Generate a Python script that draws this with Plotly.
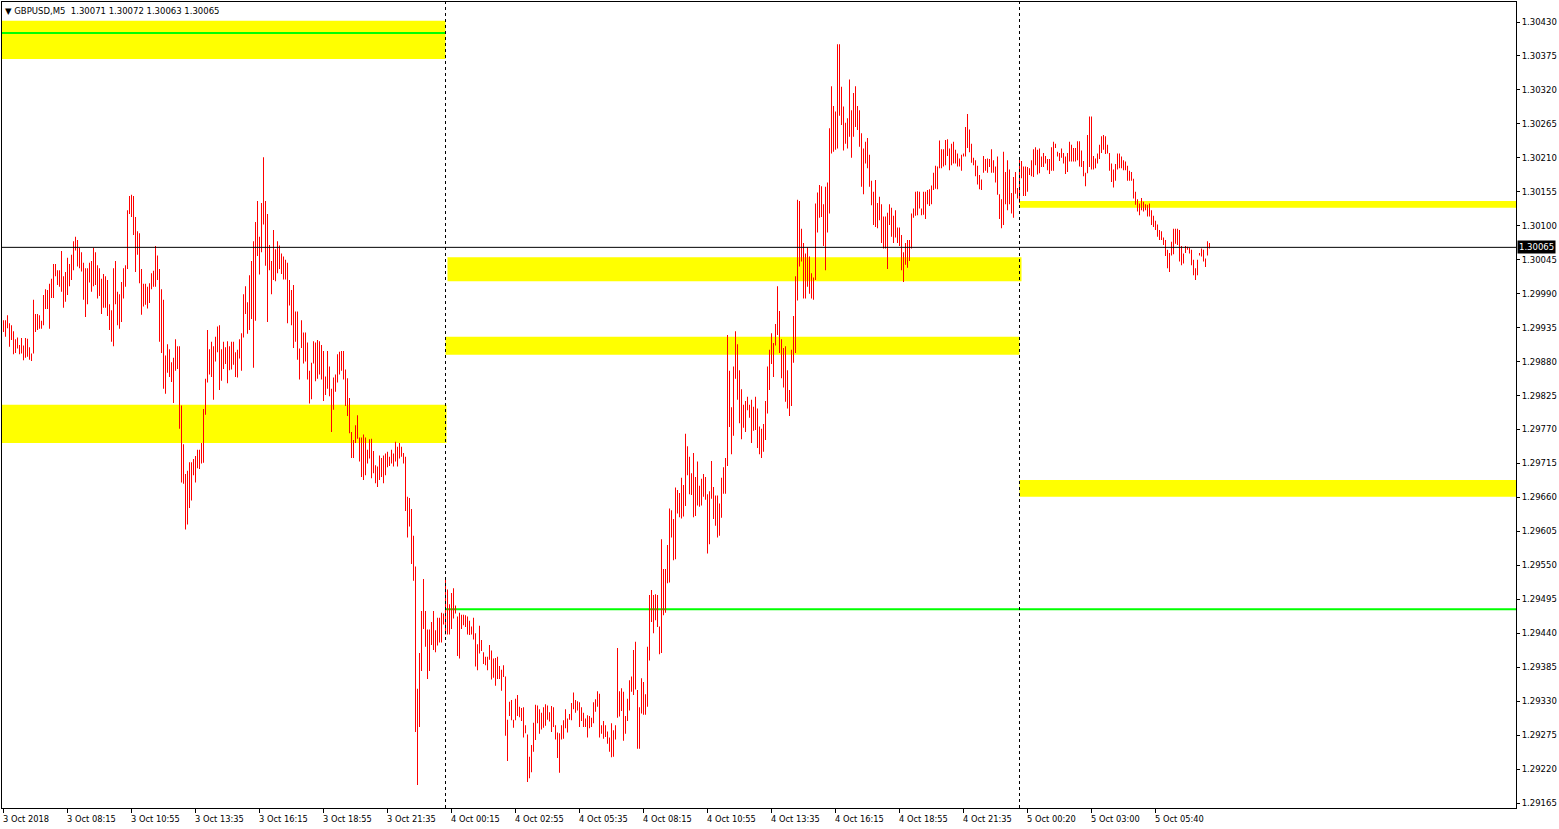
import plotly.graph_objects as go

# ── Data ─────────────────────────────────────────────────────────────────────
SYMBOL = "GBPUSD,M5"
LAST_OHLC = [1.30071, 1.30072, 1.30063, 1.30065]
BID = 1.30065

# bar highs / lows, one per 5-minute bar, 3 Oct 05:35 -> 5 Oct ~07:55
HIGH = [
    1.29947, 1.29947, 1.29955, 1.29942, 1.29939, 1.29929, 1.29916, 1.29919, 1.29907, 1.29918,
    1.29906, 1.29918, 1.29917, 1.29903, 1.29893, 1.29980, 1.29957, 1.29957, 1.29955, 1.29946,
    1.29988, 1.29997, 1.29996, 1.30006, 1.30014, 1.30038, 1.30038, 1.30028, 1.30028, 1.30059,
    1.30018, 1.30025, 1.30048, 1.30038, 1.30053, 1.30075, 1.30082, 1.30077, 1.30064, 1.30057,
    1.30040, 1.30031, 1.30031, 1.30040, 1.30043, 1.30064, 1.30057, 1.30036, 1.30031, 1.30014,
    1.30022, 1.30018, 1.30012, 1.29973, 1.29963, 1.30031, 1.30043, 1.29993, 1.29989, 1.30009,
    1.30031, 1.30036, 1.30125, 1.30148, 1.30150, 1.30148, 1.30114, 1.30091, 1.30088, 1.30030,
    1.30006, 1.30006, 1.30001, 1.30007, 1.30023, 1.30027, 1.30067, 1.30052, 1.30030, 1.29997,
    1.29980, 1.29890, 1.29908, 1.29900, 1.29879, 1.29886, 1.29916, 1.29905, 1.29905, 1.29809,
    1.29746, 1.29698, 1.29703, 1.29717, 1.29717, 1.29722, 1.29727, 1.29737, 1.29737, 1.29748,
    1.29803, 1.29852, 1.29931, 1.29900, 1.29912, 1.29905, 1.29920, 1.29937, 1.29939, 1.29900,
    1.29912, 1.29903, 1.29913, 1.29905, 1.29912, 1.29912, 1.29895, 1.29899, 1.29916, 1.29926,
    1.29989, 1.30002, 1.29976, 1.30020, 1.30043, 1.30075, 1.30106, 1.30140, 1.30082, 1.30137,
    1.30211, 1.30140, 1.30119, 1.30069, 1.30043, 1.30093, 1.30062, 1.30075, 1.30068, 1.30055,
    1.30050, 1.30045, 1.30040, 1.30012, 1.29996, 1.30004, 1.29961, 1.29961, 1.29901, 1.29947,
    1.29927, 1.29927, 1.29911, 1.29865, 1.29878, 1.29913, 1.29911, 1.29915, 1.29913, 1.29907,
    1.29897, 1.29856, 1.29897, 1.29872, 1.29836, 1.29854, 1.29859, 1.29892, 1.29896, 1.29897,
    1.29897, 1.29867, 1.29853, 1.29821, 1.29766, 1.29753, 1.29777, 1.29793, 1.29757, 1.29757,
    1.29762, 1.29757, 1.29737, 1.29754, 1.29755, 1.29735, 1.29712, 1.29710, 1.29728, 1.29724,
    1.29728, 1.29731, 1.29734, 1.29726, 1.29737, 1.29731, 1.29750, 1.29742, 1.29748, 1.29742,
    1.29732, 1.29726, 1.29661, 1.29659, 1.29641, 1.29598, 1.29548, 1.29350, 1.29408, 1.29476,
    1.29528, 1.29476, 1.29446, 1.29446, 1.29458, 1.29476, 1.29445, 1.29465, 1.29465, 1.29473,
    1.29472, 1.29531, 1.29511, 1.29487, 1.29505, 1.29513, 1.29485, 1.29467, 1.29473, 1.29470,
    1.29470, 1.29469, 1.29467, 1.29460, 1.29451, 1.29465, 1.29440, 1.29422, 1.29452, 1.29429,
    1.29409, 1.29402, 1.29402, 1.29421, 1.29412, 1.29399, 1.29400, 1.29402, 1.29387, 1.29381,
    1.29388, 1.29370, 1.29300, 1.29329, 1.29332, 1.29300, 1.29334, 1.29340, 1.29321, 1.29319,
    1.29320, 1.29291, 1.29276, 1.29240, 1.29259, 1.29295, 1.29324, 1.29323, 1.29317, 1.29311,
    1.29320, 1.29325, 1.29323, 1.29312, 1.29322, 1.29320, 1.29291, 1.29279, 1.29278, 1.29291,
    1.29299, 1.29317, 1.29302, 1.29309, 1.29327, 1.29344, 1.29332, 1.29330, 1.29328, 1.29320,
    1.29311, 1.29302, 1.29307, 1.29306, 1.29303, 1.29328, 1.29333, 1.29346, 1.29342, 1.29291,
    1.29298, 1.29291, 1.29281, 1.29271, 1.29294, 1.29283, 1.29291, 1.29416, 1.29346, 1.29351,
    1.29345, 1.29306, 1.29334, 1.29364, 1.29370, 1.29413, 1.29426, 1.29348, 1.29320, 1.29367,
    1.29361, 1.29341, 1.29418, 1.29502, 1.29510, 1.29502, 1.29503, 1.29502, 1.29451, 1.29592,
    1.29544, 1.29544, 1.29583, 1.29642, 1.29639, 1.29625, 1.29676, 1.29672, 1.29667, 1.29692,
    1.29680, 1.29763, 1.29743, 1.29726, 1.29699, 1.29732, 1.29693, 1.29718, 1.29679, 1.29690,
    1.29698, 1.29693, 1.29665, 1.29670, 1.29719, 1.29677, 1.29663, 1.29663, 1.29650, 1.29692,
    1.29709, 1.29724, 1.29923, 1.29865, 1.29806, 1.29872, 1.29929, 1.29908, 1.29866, 1.29835,
    1.29810, 1.29816, 1.29823, 1.29810, 1.29818, 1.29807, 1.29823, 1.29804, 1.29775, 1.29771,
    1.29779, 1.29816, 1.29872, 1.29899, 1.29926, 1.29910, 1.29941, 1.30002, 1.29962, 1.29916,
    1.29902, 1.29905, 1.29866, 1.29834, 1.29899, 1.29954, 1.30018, 1.30142, 1.30140, 1.30095,
    1.30072, 1.30055, 1.30065, 1.30050, 1.30023, 1.30016, 1.30136, 1.30154, 1.30166, 1.30164,
    1.30135, 1.30163, 1.30170, 1.30258, 1.30326, 1.30294, 1.30285, 1.30394, 1.30394, 1.30325,
    1.30293, 1.30267, 1.30274, 1.30337, 1.30287, 1.30315, 1.30326, 1.30294, 1.30287, 1.30250,
    1.30225, 1.30236, 1.30242, 1.30215, 1.30173, 1.30155, 1.30174, 1.30137, 1.30147, 1.30135,
    1.30115, 1.30115, 1.30121, 1.30135, 1.30129, 1.30116, 1.30125, 1.30097, 1.30097, 1.30085,
    1.30057, 1.30072, 1.30077, 1.30077, 1.30120, 1.30128, 1.30155, 1.30156, 1.30155, 1.30128,
    1.30155, 1.30155, 1.30158, 1.30159, 1.30165, 1.30186, 1.30197, 1.30196, 1.30238, 1.30224,
    1.30224, 1.30239, 1.30240, 1.30225, 1.30233, 1.30236, 1.30223, 1.30217, 1.30209, 1.30215,
    1.30217, 1.30260, 1.30281, 1.30256, 1.30233, 1.30210, 1.30206, 1.30197, 1.30182, 1.30175,
    1.30213, 1.30208, 1.30209, 1.30208, 1.30224, 1.30206, 1.30196, 1.30212, 1.30151, 1.30143,
    1.30220, 1.30187, 1.30206, 1.30191, 1.30153, 1.30179, 1.30187, 1.30161, 1.30209, 1.30205,
    1.30196, 1.30196, 1.30195, 1.30193, 1.30206, 1.30224, 1.30227, 1.30223, 1.30225, 1.30212,
    1.30218, 1.30213, 1.30208, 1.30208, 1.30227, 1.30236, 1.30233, 1.30220, 1.30218, 1.30225,
    1.30218, 1.30212, 1.30218, 1.30236, 1.30231, 1.30226, 1.30226, 1.30237, 1.30237, 1.30222,
    1.30205, 1.30186, 1.30247, 1.30277, 1.30277, 1.30213, 1.30209, 1.30217, 1.30231, 1.30245,
    1.30247, 1.30245, 1.30231, 1.30218, 1.30201, 1.30191, 1.30200, 1.30217, 1.30217, 1.30212,
    1.30206, 1.30204, 1.30197, 1.30189, 1.30187, 1.30176, 1.30155, 1.30143, 1.30136, 1.30145,
    1.30139, 1.30135, 1.30134, 1.30136, 1.30125, 1.30116, 1.30108, 1.30102, 1.30093, 1.30091,
    1.30081, 1.30077, 1.30061, 1.30056, 1.30074, 1.30095, 1.30095, 1.30095, 1.30093, 1.30067,
    1.30055, 1.30067, 1.30066, 1.30064, 1.30061, 1.30045, 1.30031, 1.30045, 1.30056, 1.30063,
    1.30061, 1.30047, 1.30075, 1.30072,
]

LOW = [
    1.29928, 1.29920, 1.29934, 1.29904, 1.29915, 1.29892, 1.29894, 1.29901, 1.29892, 1.29893,
    1.29882, 1.29886, 1.29888, 1.29883, 1.29881, 1.29893, 1.29928, 1.29931, 1.29933, 1.29933,
    1.29939, 1.29965, 1.29965, 1.29933, 1.29983, 1.29983, 1.30018, 1.30004, 1.30001, 1.29993,
    1.29967, 1.29977, 1.29988, 1.30002, 1.30012, 1.30028, 1.30060, 1.30034, 1.30031, 1.30026,
    1.29980, 1.29952, 1.29973, 1.30008, 1.29993, 1.30002, 1.30004, 1.29982, 1.29986, 1.29957,
    1.29967, 1.29967, 1.29954, 1.29931, 1.29912, 1.29905, 1.29973, 1.29939, 1.29933, 1.29944,
    1.29982, 1.30001, 1.30030, 1.30119, 1.30114, 1.30085, 1.30025, 1.30053, 1.30007, 1.29956,
    1.29969, 1.29972, 1.29966, 1.29975, 1.29997, 1.30001, 1.30001, 1.30012, 1.29912, 1.29894,
    1.29836, 1.29828, 1.29862, 1.29855, 1.29847, 1.29813, 1.29865, 1.29868, 1.29771, 1.29684,
    1.29682, 1.29608, 1.29616, 1.29643, 1.29655, 1.29696, 1.29684, 1.29707, 1.29706, 1.29715,
    1.29716, 1.29794, 1.29846, 1.29859, 1.29855, 1.29818, 1.29880, 1.29895, 1.29834, 1.29849,
    1.29868, 1.29876, 1.29845, 1.29866, 1.29867, 1.29875, 1.29855, 1.29854, 1.29885, 1.29865,
    1.29919, 1.29957, 1.29925, 1.29931, 1.29949, 1.29870, 1.29946, 1.30051, 1.30021, 1.30057,
    1.30102, 1.30035, 1.29944, 1.30028, 1.29989, 1.30012, 1.30010, 1.30023, 1.30030, 1.30022,
    1.30013, 1.30013, 1.29942, 1.29971, 1.29939, 1.29902, 1.29912, 1.29883, 1.29851, 1.29902,
    1.29877, 1.29880, 1.29851, 1.29812, 1.29819, 1.29877, 1.29848, 1.29852, 1.29859, 1.29851,
    1.29816, 1.29826, 1.29836, 1.29824, 1.29766, 1.29802, 1.29831, 1.29846, 1.29859, 1.29865,
    1.29851, 1.29808, 1.29792, 1.29764, 1.29724, 1.29724, 1.29748, 1.29755, 1.29718, 1.29693,
    1.29688, 1.29696, 1.29715, 1.29723, 1.29691, 1.29699, 1.29683, 1.29677, 1.29688, 1.29693,
    1.29683, 1.29696, 1.29709, 1.29711, 1.29715, 1.29710, 1.29718, 1.29710, 1.29723, 1.29726,
    1.29715, 1.29638, 1.29595, 1.29613, 1.29552, 1.29525, 1.29280, 1.29194, 1.29288, 1.29379,
    1.29447, 1.29418, 1.29366, 1.29379, 1.29421, 1.29413, 1.29409, 1.29420, 1.29425, 1.29425,
    1.29454, 1.29438, 1.29438, 1.29438, 1.29447, 1.29464, 1.29472, 1.29403, 1.29399, 1.29447,
    1.29453, 1.29450, 1.29438, 1.29437, 1.29438, 1.29430, 1.29386, 1.29380, 1.29407, 1.29411,
    1.29390, 1.29388, 1.29380, 1.29397, 1.29365, 1.29368, 1.29355, 1.29366, 1.29366, 1.29347,
    1.29369, 1.29274, 1.29233, 1.29306, 1.29299, 1.29287, 1.29299, 1.29306, 1.29304, 1.29298,
    1.29271, 1.29278, 1.29199, 1.29205, 1.29215, 1.29248, 1.29267, 1.29294, 1.29277, 1.29284,
    1.29287, 1.29290, 1.29300, 1.29297, 1.29280, 1.29288, 1.29268, 1.29238, 1.29214, 1.29268,
    1.29269, 1.29286, 1.29279, 1.29300, 1.29299, 1.29317, 1.29311, 1.29315, 1.29288, 1.29298,
    1.29288, 1.29288, 1.29271, 1.29286, 1.29288, 1.29294, 1.29313, 1.29321, 1.29271, 1.29277,
    1.29269, 1.29272, 1.29261, 1.29248, 1.29239, 1.29240, 1.29268, 1.29303, 1.29305, 1.29314,
    1.29266, 1.29277, 1.29298, 1.29315, 1.29345, 1.29340, 1.29349, 1.29253, 1.29253, 1.29310,
    1.29308, 1.29308, 1.29321, 1.29396, 1.29458, 1.29440, 1.29461, 1.29450, 1.29406, 1.29408,
    1.29469, 1.29473, 1.29521, 1.29522, 1.29595, 1.29558, 1.29560, 1.29634, 1.29628, 1.29626,
    1.29629, 1.29646, 1.29696, 1.29665, 1.29664, 1.29628, 1.29630, 1.29647, 1.29645, 1.29647,
    1.29661, 1.29656, 1.29569, 1.29584, 1.29658, 1.29625, 1.29614, 1.29595, 1.29598, 1.29627,
    1.29666, 1.29666, 1.29711, 1.29774, 1.29730, 1.29760, 1.29852, 1.29818, 1.29780, 1.29754,
    1.29773, 1.29766, 1.29801, 1.29789, 1.29748, 1.29768, 1.29769, 1.29740, 1.29730, 1.29724,
    1.29734, 1.29753, 1.29796, 1.29834, 1.29876, 1.29855, 1.29906, 1.29923, 1.29894, 1.29853,
    1.29838, 1.29815, 1.29804, 1.29792, 1.29808, 1.29878, 1.29894, 1.29979, 1.30034, 1.30042,
    1.29982, 1.29982, 1.30001, 1.29990, 1.29982, 1.29980, 1.30012, 1.30089, 1.30113, 1.30114,
    1.30067, 1.30028, 1.30089, 1.30120, 1.30217, 1.30220, 1.30223, 1.30225, 1.30278, 1.30263,
    1.30222, 1.30233, 1.30225, 1.30244, 1.30210, 1.30244, 1.30260, 1.30255, 1.30228, 1.30163,
    1.30151, 1.30201, 1.30193, 1.30163, 1.30133, 1.30101, 1.30098, 1.30096, 1.30109, 1.30072,
    1.30063, 1.30063, 1.30030, 1.30101, 1.30082, 1.30072, 1.30081, 1.30072, 1.30067, 1.30028,
    1.30009, 1.30037, 1.30032, 1.30043, 1.30063, 1.30113, 1.30116, 1.30117, 1.30128, 1.30117,
    1.30118, 1.30111, 1.30135, 1.30132, 1.30135, 1.30158, 1.30160, 1.30159, 1.30193, 1.30193,
    1.30196, 1.30198, 1.30213, 1.30190, 1.30198, 1.30201, 1.30201, 1.30196, 1.30196, 1.30189,
    1.30212, 1.30212, 1.30226, 1.30219, 1.30202, 1.30198, 1.30180, 1.30167, 1.30159, 1.30158,
    1.30186, 1.30189, 1.30186, 1.30195, 1.30186, 1.30186, 1.30170, 1.30150, 1.30111, 1.30096,
    1.30101, 1.30135, 1.30125, 1.30135, 1.30120, 1.30113, 1.30152, 1.30144, 1.30137, 1.30177,
    1.30148, 1.30148, 1.30155, 1.30182, 1.30180, 1.30179, 1.30198, 1.30183, 1.30185, 1.30195,
    1.30195, 1.30201, 1.30190, 1.30184, 1.30189, 1.30189, 1.30226, 1.30212, 1.30205, 1.30210,
    1.30201, 1.30184, 1.30187, 1.30204, 1.30204, 1.30204, 1.30204, 1.30206, 1.30196, 1.30195,
    1.30180, 1.30164, 1.30185, 1.30195, 1.30191, 1.30191, 1.30193, 1.30201, 1.30208, 1.30218,
    1.30223, 1.30216, 1.30217, 1.30189, 1.30171, 1.30162, 1.30173, 1.30191, 1.30193, 1.30193,
    1.30190, 1.30190, 1.30173, 1.30173, 1.30173, 1.30144, 1.30134, 1.30123, 1.30117, 1.30125,
    1.30123, 1.30125, 1.30115, 1.30115, 1.30101, 1.30098, 1.30093, 1.30082, 1.30077, 1.30077,
    1.30069, 1.30051, 1.30031, 1.30025, 1.30052, 1.30054, 1.30071, 1.30069, 1.30042, 1.30036,
    1.30039, 1.30056, 1.30061, 1.30055, 1.30036, 1.30020, 1.30012, 1.30020, 1.30052, 1.30050,
    1.30042, 1.30033, 1.30052, 1.30063,
]

# time axis labels, one every 32 bars
TIME_LABELS = [
    "3 Oct 2018", "3 Oct 08:15", "3 Oct 10:55", "3 Oct 13:35", "3 Oct 16:15",
    "3 Oct 18:55", "3 Oct 21:35", "4 Oct 00:15", "4 Oct 02:55", "4 Oct 05:35",
    "4 Oct 08:15", "4 Oct 10:55", "4 Oct 13:35", "4 Oct 16:15", "4 Oct 18:55",
    "4 Oct 21:35", "5 Oct 00:20", "5 Oct 03:00", "5 Oct 05:40",
]
LABEL_EVERY = 32
DAY_STARTS = [221, 508]          # bars at 4 Oct 00:00 and 5 Oct 00:00
VISIBLE_BARS = 757               # chart width in bars (incl. empty space on the right)

# price axis
PRICE_TICK_START = 1.29165
PRICE_TICK_STEP = 0.00055
PRICE_TICK_COUNT = 24
PRICE_RANGE = [1.291569, 1.304624]

# supply / demand zones: (from bar, to bar, low, high)
ZONES = [
    (-1, 221, 1.30370, 1.30432),
    (-1, 221.5, 1.29748, 1.29810),
    (222, 509, 1.30010, 1.30049),
    (221, 508, 1.29891, 1.29920),
    (508, 800, 1.30129, 1.30140),
    (508, 800, 1.29661, 1.29688),
]
# horizontal levels: (from bar, to bar, price)
LEVELS = [
    (-1, 221, 1.30412),
    (221, 800, 1.29479),
]

# ── Style ────────────────────────────────────────────────────────────────────
FONT = "DejaVu Sans"
BAR_COLOR = "#ff0000"
ZONE_COLOR = "#ffff00"
LEVEL_COLOR = "#00ff00"

n = len(HIGH)
idx = list(range(n))

fig = go.Figure()
# each bar is a 1px high-low stick, 2px apart (MT4 bar chart at this zoom)
fig.add_trace(go.Bar(
    x=idx,
    y=[h - l for h, l in zip(HIGH, LOW)],
    base=LOW,
    width=0.45,
    marker=dict(color=BAR_COLOR, line=dict(width=0)),
    hoverinfo="skip",
    showlegend=False,
))

shapes = []
for x0, x1, lo, hi in ZONES:
    shapes.append(dict(type="rect", xref="x", yref="y", x0=x0, x1=x1, y0=lo, y1=hi,
                       fillcolor=ZONE_COLOR, line=dict(width=0), layer="below"))
for x0, x1, p in LEVELS:
    shapes.append(dict(type="line", xref="x", yref="y", x0=x0, x1=x1, y0=p, y1=p,
                       line=dict(color=LEVEL_COLOR, width=2), layer="below"))
for d in DAY_STARTS:
    shapes.append(dict(type="line", xref="x", yref="paper", x0=d, x1=d, y0=0, y1=1,
                       line=dict(color="black", width=1, dash="3px,3px"), layer="above"))
shapes.append(dict(type="line", xref="paper", yref="y", x0=0, x1=1, y0=BID, y1=BID,
                   line=dict(color="black", width=1), layer="above"))

price_ticks = [round(PRICE_TICK_START + k * PRICE_TICK_STEP, 5) for k in range(PRICE_TICK_COUNT)]
time_ticks = [k * LABEL_EVERY for k in range(len(TIME_LABELS))]

annotations = []
for t, lab in zip(time_ticks, TIME_LABELS):
    annotations.append(dict(x=t, xref="x", y=0, yref="paper", text=lab, showarrow=False,
                            xanchor="left", yanchor="top", xshift=-3, yshift=-4,
                            font=dict(family=FONT, size=8.3, color="black")))

title = "\u25bc\u00a0" + SYMBOL + "\u00a0\u00a0" + " ".join(f"{v:.5f}" for v in LAST_OHLC)
annotations.append(dict(x=0, xref="paper", y=1, yref="paper", text=title, showarrow=False,
                        xanchor="left", yanchor="top", xshift=1, yshift=-2,
                        font=dict(family=FONT, size=8.5, color="black")))
annotations.append(dict(x=1, xref="paper", y=BID, yref="y", text=f"{BID:.5f}", showarrow=False,
                        xanchor="left", yanchor="middle", xshift=1,
                        bgcolor="black", borderpad=1,
                        font=dict(family=FONT, size=8.5, color="white")))

fig.update_layout(
    width=1559, height=829,
    margin=dict(l=2, r=43, t=2, b=21),
    paper_bgcolor="white", plot_bgcolor="white",
    font=dict(family=FONT, size=8.5, color="black"),
    showlegend=False,
    hovermode=False,
    shapes=shapes,
    annotations=annotations,
    xaxis=dict(
        # offset by a quarter bar so each 1px stick lands on a whole pixel
        range=[-0.75, VISIBLE_BARS - 0.75],
        showgrid=False, zeroline=False,
        showline=True, linecolor="black", linewidth=1, mirror=True,
        ticks="outside", ticklen=4, tickcolor="black", tickwidth=1,
        tickvals=time_ticks, showticklabels=False,
    ),
    yaxis=dict(
        side="right",
        range=PRICE_RANGE,
        showgrid=False, zeroline=False,
        showline=True, linecolor="black", linewidth=1, mirror=True,
        ticks="outside", ticklen=3, tickcolor="black", tickwidth=1,
        tickvals=price_ticks, tickformat=".5f",
        tickfont=dict(family=FONT, size=8.5, color="black"),
    ),
)

fig.write_html(
    "out.html",
    config={"displayModeBar": False},
    post_script="document.body.style.margin='0';document.body.style.overflow='hidden';",
)
